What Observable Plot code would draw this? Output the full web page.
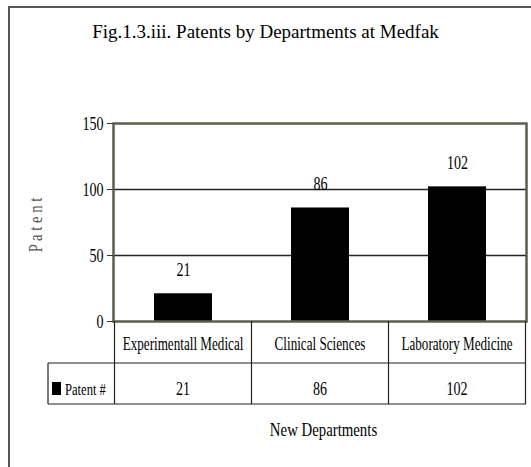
<!DOCTYPE html>
<html><head><meta charset="utf-8">
<script src="https://cdn.jsdelivr.net/npm/d3@7"></script>
<script src="https://cdn.jsdelivr.net/npm/@observablehq/plot@0.6"></script>
<style>body{margin:0;background:#fff}</style>
</head><body><div id="chart"></div>
<script>
const departments = ["Experimentall Medical", "Clinical Sciences", "Laboratory Medicine"];
const patents = [21, 86, 102];
const yTicks = [0, 50, 100, 150];
const gridValues = [50, 100];
const titleText = "Fig.1.3.iii. Patents by Departments at Medfak";
const yLabel = "P a t e n t";
const xLabel = "New Departments";
const seriesName = "Patent #";

const data = departments.map((d, i) => ({dept: d, patents: patents[i]}));

function decor(index, scales, values, dims) {
  const x = scales.x, y = scales.y;
  const bw = typeof x.bandwidth === "function" ? x.bandwidth() : x.bandwidth;
  const step = typeof x.step === "function" ? x.step() : x.bandwidth;
  const gap = (step - bw) / 2;
  const left = dims.marginLeft, right = dims.width - dims.marginRight;
  const y0 = y(0);
  const r1 = y0 + 42, r2 = y0 + 83;
  const legendLeft = 48;
  const g = d3.create("svg:g");
  // outer border (top and left visible)
  g.append("path").attr("d", `M9,${dims.height}V7H${dims.width}`)
    .attr("fill", "none").attr("stroke", "#555").attr("stroke-width", 2);
  // title
  g.append("text").attr("x", dims.width / 2).attr("y", 38)
    .attr("text-anchor", "middle").attr("font-size", 19).text(titleText);
  // y label (rotated)
  g.append("text").attr("data-rot", "1").attr("data-x", 42).attr("data-y", (y(0) + y(150)) / 2 + 3)
    .attr("text-anchor", "middle").attr("font-size", 18).attr("fill", "#555")
    .attr("data-c", "0.82").text(yLabel);
  // table lines
  const bounds = departments.map(d => x(d) - gap).concat([x(departments[departments.length - 1]) + bw + gap]);
  const lines = g.append("g").attr("stroke", "#222").attr("stroke-width", 1.2);
  bounds.forEach(b => lines.append("line").attr("x1", b).attr("x2", b).attr("y1", y0).attr("y2", r2));
  lines.append("line").attr("x1", legendLeft).attr("x2", legendLeft).attr("y1", r1).attr("y2", r2);
  [r1, r2].forEach(r => lines.append("line").attr("x1", legendLeft).attr("x2", right).attr("y1", r).attr("y2", r));
  // table texts
  departments.forEach((d, i) => {
    const cx = x(d) + bw / 2;
    g.append("text").attr("x", cx).attr("y", y0 + 29).attr("text-anchor", "middle")
      .attr("font-size", 18).attr("data-c", "0.73").text(d);
    g.append("text").attr("x", cx).attr("y", r1 + 32).attr("text-anchor", "middle")
      .attr("font-size", 19).attr("data-c", "0.74").text(patents[i]);
  });
  // legend
  g.append("rect").attr("x", legendLeft + 4).attr("y", r1 + 19).attr("width", 9).attr("height", 13).attr("fill", "black");
  g.append("text").attr("x", legendLeft + 17).attr("y", r1 + 32).attr("text-anchor", "start")
    .attr("font-size", 17).attr("data-c", "0.74").text(seriesName);
  // x label
  g.append("text").attr("x", (left + right) / 2 + 4).attr("y", r2 + 32).attr("text-anchor", "middle")
    .attr("font-size", 19).attr("data-c", "0.78").text(xLabel);
  // condense own texts with a horizontal scale around their anchor point
  g.selectAll("text[data-c]").each(function () {
    const t = d3.select(this);
    const c = +t.attr("data-c");
    if (t.attr("data-rot")) {
      t.attr("transform", `translate(${t.attr("data-x")},${t.attr("data-y")}) rotate(-90) scale(${c},1)`);
    } else {
      t.attr("transform", `translate(${t.attr("x")},${t.attr("y")}) scale(${c},1)`).attr("x", 0).attr("y", 0);
    }
  });
  return g.node();
}

const chart = Plot.plot({
  width: 531,
  height: 467,
  marginLeft: 113,
  marginRight: 5,
  marginTop: 123,
  marginBottom: 146,
  style: {fontFamily: "Liberation Serif", fontSize: "17px", background: "white", color: "black"},
  x: {domain: departments, paddingInner: 0.58, paddingOuter: 0.29, axis: null},
  y: {domain: [0, 150], axis: null},
  marks: [
    Plot.ruleY(gridValues, {stroke: "#222", strokeWidth: 1.3}),
    Plot.barY(data, {x: "dept", y: "patents", fill: "black"}),
    Plot.frame({stroke: "#5e5e4a", strokeWidth: 2.5}),
    Plot.text(data, {x: "dept", y: "patents", text: d => String(d.patents), dy: -24, fontSize: 19}),
    Plot.axisY({ticks: yTicks, tickSize: 6, tickPadding: 4, label: null, fontSize: 19, stroke: "#333"}),
    decor
  ]
});
document.getElementById("chart").appendChild(chart);

// condense Plot's own short numeric labels (ticks, bar values)
chart.querySelectorAll("text:not([data-c])").forEach(t => {
  if (t.textContent === titleText) return;
  const w = t.getComputedTextLength();
  if (w > 0) {
    t.setAttribute("textLength", (w * 0.74).toFixed(2));
    t.setAttribute("lengthAdjust", "spacingAndGlyphs");
  }
});
</script></body></html>
